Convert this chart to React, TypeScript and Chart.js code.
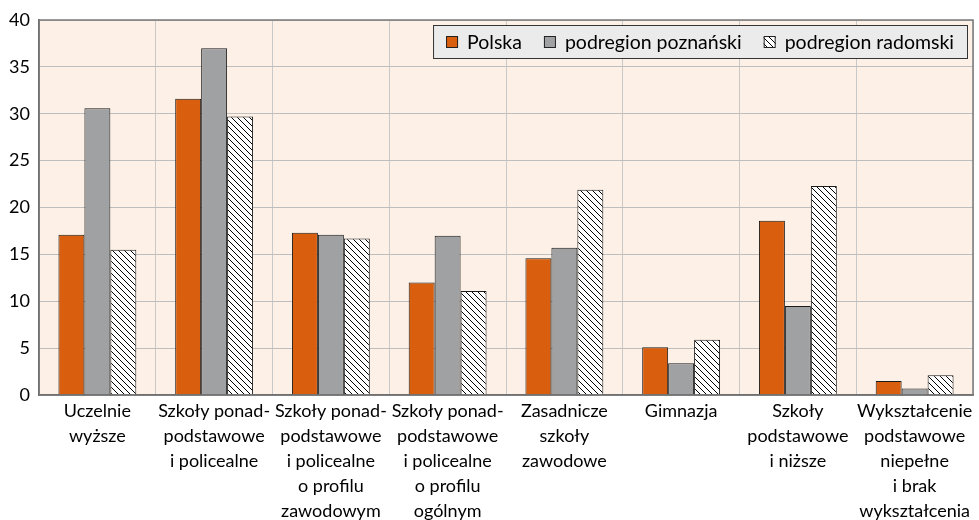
import React, { useEffect, useRef } from "react";
import { Chart, registerables } from "chart.js";

Chart.register(...registerables);

const categories: string[][] = [
  ["Uczelnie", "wyższe"],
  ["Szkoły ponad-", "podstawowe", "i policealne"],
  ["Szkoły ponad-", "podstawowe", "i policealne", "o profilu", "zawodowym"],
  ["Szkoły ponad-", "podstawowe", "i policealne", "o profilu", "ogólnym"],
  ["Zasadnicze", "szkoły", "zawodowe"],
  ["Gimnazja"],
  ["Szkoły", "podstawowe", "i niższe"],
  ["Wykształcenie", "podstawowe", "niepełne", "i brak", "wykształcenia"],
];

const seriesNames = ["Polska", "podregion poznański", "podregion radomski"];
const polska = [17.1, 31.6, 17.3, 12.0, 14.6, 5.1, 18.6, 1.5];
const poznanski = [30.6, 37.0, 17.1, 17.0, 15.7, 3.4, 9.5, 0.7];
const radomski = [15.5, 29.7, 16.7, 11.1, 21.9, 5.9, 22.3, 2.1];
const yTicks = [0, 5, 10, 15, 20, 25, 30, 35, 40];

const FONT = "Lato, 'Noto Sans', sans-serif";
const ORANGE = "#D95F0E";
const GRAY = "#A0A1A3";

function makeHatch(): CanvasPattern | string {
  const s = 6;
  const c = document.createElement("canvas");
  c.width = s;
  c.height = s;
  const g = c.getContext("2d");
  if (!g) return "#fff";
  g.fillStyle = "#ffffff";
  g.fillRect(0, 0, s, s);
  g.strokeStyle = "#000000";
  g.lineWidth = 1;
  g.beginPath();
  g.moveTo(-1, -1);
  g.lineTo(s + 1, s + 1);
  g.moveTo(s - 1, -1);
  g.lineTo(s + 1, 1);
  g.moveTo(-1, s - 1);
  g.lineTo(1, s + 1);
  g.stroke();
  const p = g.createPattern(c, "repeat");
  return p || "#fff";
}

export default function App() {
  const ref = useRef<HTMLCanvasElement | null>(null);

  useEffect(() => {
    if (!ref.current) return;
    const hatch = makeHatch();

    const bgPlugin = {
      id: "plotBg",
      beforeDraw(chart: any) {
        const { ctx, chartArea } = chart;
        ctx.save();
        ctx.fillStyle = "#FDF1E7";
        ctx.fillRect(chartArea.left, chartArea.top, chartArea.right - chartArea.left, chartArea.bottom - chartArea.top);
        ctx.restore();
      },
      afterDatasetsDraw(chart: any) {
        const { ctx, chartArea } = chart;
        ctx.save();
        ctx.strokeStyle = "#7A7A7A";
        ctx.lineWidth = 1.5;
        ctx.strokeRect(chartArea.left, chartArea.top, chartArea.right - chartArea.left, chartArea.bottom - chartArea.top);
        ctx.restore();
      },
    };

    const legendPlugin = {
      id: "insideLegend",
      afterDraw(chart: any) {
        const { ctx, chartArea } = chart;
        ctx.save();
        ctx.font = `19.5px ${FONT}`;
        const sq = 12;
        const gapSq = 9;
        const gapItem = 22;
        const padL = 13;
        const padR = 14;
        const widths = seriesNames.map((n) => ctx.measureText(n).width);
        let total = padL + padR;
        widths.forEach((w, i) => {
          total += sq + gapSq + w + (i < widths.length - 1 ? gapItem : 0);
        });
        const h = 34;
        const right = chartArea.right - 5;
        const left = right - total;
        const top = chartArea.top + 5;
        ctx.fillStyle = "#EBEBEB";
        ctx.fillRect(left, top, total, h);
        ctx.strokeStyle = "#333333";
        ctx.lineWidth = 1;
        ctx.strokeRect(left + 0.5, top + 0.5, total - 1, h - 1);
        const fills: any[] = [ORANGE, GRAY, hatch];
        let x = left + padL;
        const cy = top + h / 2;
        seriesNames.forEach((n, i) => {
          ctx.fillStyle = fills[i];
          ctx.fillRect(x, cy - sq / 2, sq, sq);
          ctx.strokeStyle = "#222";
          ctx.strokeRect(x + 0.5, cy - sq / 2 + 0.5, sq - 1, sq - 1);
          x += sq + gapSq;
          ctx.fillStyle = "#000";
          ctx.textBaseline = "middle";
          ctx.textAlign = "left";
          ctx.fillText(n, x, cy + 1);
          x += widths[i] + gapItem;
        });
        ctx.restore();
      },
    };

    const mk = (label: string, data: number[], bg: any) => ({
      label,
      data,
      backgroundColor: bg,
      borderColor: "#1A1A1A",
      borderWidth: 1,
      categoryPercentage: 0.667,
      barPercentage: 1.0,
    });

    const chart = new Chart(ref.current, {
      type: "bar",
      data: {
        labels: categories,
        datasets: [mk(seriesNames[0], polska, ORANGE), mk(seriesNames[1], poznanski, GRAY), mk(seriesNames[2], radomski, hatch)],
      },
      options: {
        animation: false,
        responsive: false,
        maintainAspectRatio: false,
        layout: { padding: { top: 20, right: 6, left: 0, bottom: 0 } },
        plugins: {
          legend: { display: false },
          tooltip: { enabled: false },
        },
        scales: {
          x: {
            grid: { color: "#C8C8C8", lineWidth: 1, offset: true, drawTicks: false },
            border: { color: "#555555", width: 1.5 },
            ticks: {
              color: "#000",
              font: { family: FONT, size: 18, lineHeight: 1.39 },
              padding: 4,
              maxRotation: 0,
              autoSkip: false,
            },
            afterFit(scale: any) {
              scale.height = 125;
            },
          },
          y: {
            min: 0,
            max: 40,
            afterBuildTicks(scale: any) {
              scale.ticks = yTicks.map((v) => ({ value: v }));
            },
            grid: { color: "#BEBEBE", lineWidth: 1, drawTicks: false },
            border: { color: "#555555", width: 1.5 },
            ticks: {
              color: "#000",
              font: { family: FONT, size: 18 },
              padding: 9,
            },
            afterFit(scale: any) {
              scale.width = 39;
            },
          },
        },
      },
      plugins: [bgPlugin, legendPlugin],
    });
    return () => chart.destroy();
  }, []);

  return (
    <div style={{ position: "fixed", left: 0, top: 0, width: 979, height: 520, background: "#fff" }}>
      <canvas ref={ref} width={979} height={520} style={{ width: 979, height: 520, display: "block" }} />
    </div>
  );
}
